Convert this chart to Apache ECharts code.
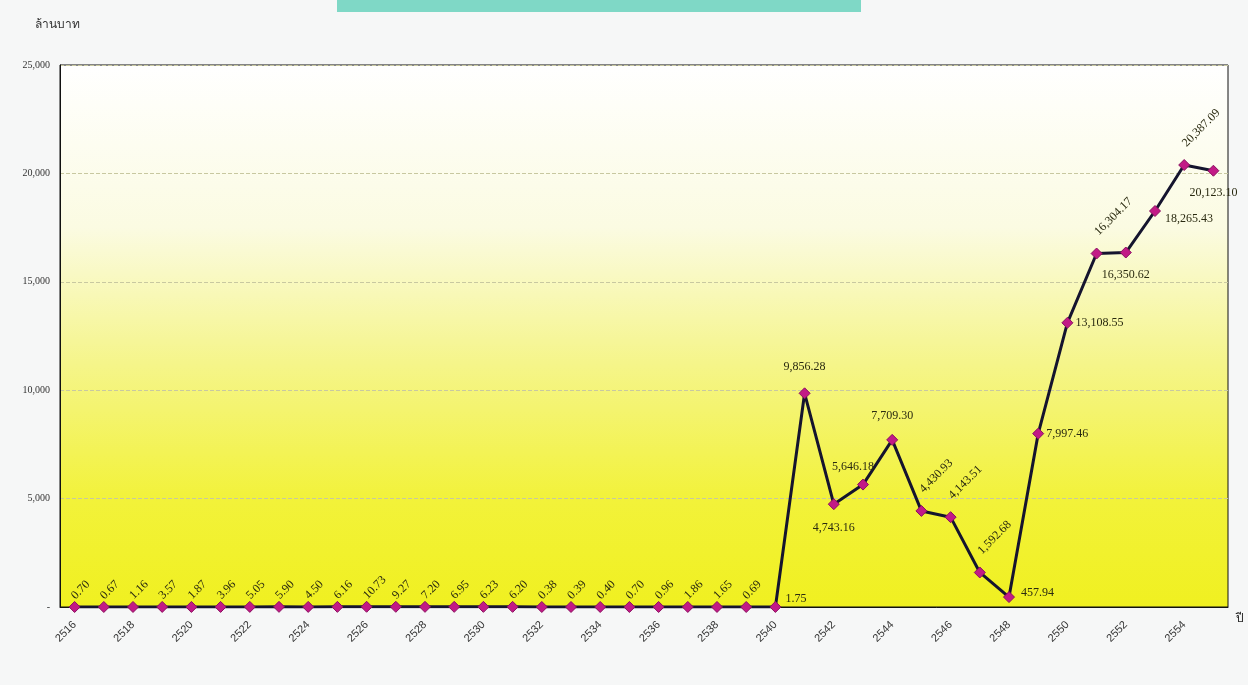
<!DOCTYPE html>
<html>
<head>
<meta charset="utf-8">
<script src="https://cdn.jsdelivr.net/npm/echarts@6/dist/echarts.min.js"></script>
<style>
html,body{margin:0;padding:0;background:#f6f7f7;}
#c{width:1248px;height:685px;}
</style>
</head>
<body>
<div id="c"></div>
<script>
var years = ['2516','2517','2518','2519','2520','2521','2522','2523','2524','2525','2526','2527','2528','2529','2530','2531','2532','2533','2534','2535','2536','2537','2538','2539','2540','2541','2542','2543','2544','2545','2546','2547','2548','2549','2550','2551','2552','2553','2554','2555'];
var values = [0.70,0.67,1.16,3.57,1.87,3.96,5.05,5.90,4.50,6.16,10.73,9.27,7.20,6.95,6.23,6.20,0.38,0.39,0.40,0.70,0.96,1.86,1.65,0.69,1.75,9856.28,4743.16,5646.18,7709.30,4430.93,4143.51,1592.68,457.94,7997.46,13108.55,16304.17,16350.62,18265.43,20387.09,20123.10];
var yTicks = [0,5000,10000,15000,20000,25000];
var yName = 'ล้านบาท';
var xName = 'ปี';

function fmt(v){
  return v.toLocaleString('en-US',{minimumFractionDigits:2,maximumFractionDigits:2});
}
var rotUp = {position:'top',rotate:45,align:'left',verticalAlign:'middle',distance:5,offset:[-2,0]};
var rotBig = {position:'top',rotate:45,align:'left',verticalAlign:'middle',distance:14,offset:[0,0]};
var placement = {
  24:{position:'right',distance:4,offset:[0,-8]},
  25:{position:'top',distance:14},
  26:{position:'bottom',distance:12},
  27:{position:'top',distance:6,offset:[-10,0]},
  28:{position:'top',distance:12},
  29:rotBig,
  30:rotBig,
  31:rotBig,
  32:{position:'right',distance:6,offset:[0,-4]},
  33:{position:'right',distance:2},
  34:{position:'right',distance:2},
  35:rotBig,
  36:{position:'bottom',distance:10},
  37:{position:'right',distance:4,offset:[0,8]},
  38:rotBig,
  39:{position:'bottom',distance:10}
};
var seriesData = values.map(function(v,i){
  var lab = Object.assign({}, placement[i] || rotUp);
  return {value:v,label:lab};
});

var chart = echarts.init(document.getElementById('c'));
chart.setOption({
  backgroundColor:'#f6f7f7',
  animation:false,
  graphic:[{type:'rect',shape:{x:337,y:0,width:524,height:12},style:{fill:'#7fd8c6'}}],
  grid:{left:60,right:20,top:65,bottom:78,show:true,borderColor:'#111',borderWidth:1,
    backgroundColor:{type:'linear',x:0,y:0,x2:0,y2:1,colorStops:[
      {offset:0,color:'#ffffff'},{offset:0.3,color:'#fbfbe2'},{offset:0.55,color:'#f5f58a'},{offset:0.8,color:'#f2f23a'},{offset:1,color:'#f0f020'}]}},
  xAxis:{type:'category',data:years,boundaryGap:true,
    name:xName,nameLocation:'end',nameGap:8,
    nameTextStyle:{fontFamily:'Liberation Sans',fontSize:12,color:'#222',verticalAlign:'top',padding:[6,0,0,0]},
    axisLine:{lineStyle:{color:'#111',width:1}},axisTick:{show:false},
    axisLabel:{interval:1,rotate:45,fontFamily:'Liberation Sans',fontSize:11,color:'#333',margin:16}},
  yAxis:{type:'value',min:0,max:25000,interval:5000,
    name:yName,nameLocation:'end',nameGap:34,
    nameTextStyle:{fontFamily:'Noto Sans',fontSize:12,color:'#333',align:'left',padding:[0,0,0,-25]},
    axisLine:{show:true,lineStyle:{color:'#111'}},axisTick:{show:false},
    splitLine:{lineStyle:{color:'#c8c8a0',type:'dashed',width:1}},
    axisLabel:{fontFamily:'Liberation Serif',fontSize:10,color:'#333',margin:10,
      formatter:function(v){return v===0?'-':v.toLocaleString('en-US');}}},
  series:[{type:'line',data:seriesData,symbol:'diamond',symbolSize:11,
    lineStyle:{color:'#15142e',width:3},
    itemStyle:{color:'#c21a86',borderColor:'#8a1060',borderWidth:1},
    label:{show:true,fontFamily:'Liberation Serif',fontSize:12,color:'#2a2a10',
      formatter:function(p){return fmt(p.value);}}}]
});
</script>
</body>
</html>
